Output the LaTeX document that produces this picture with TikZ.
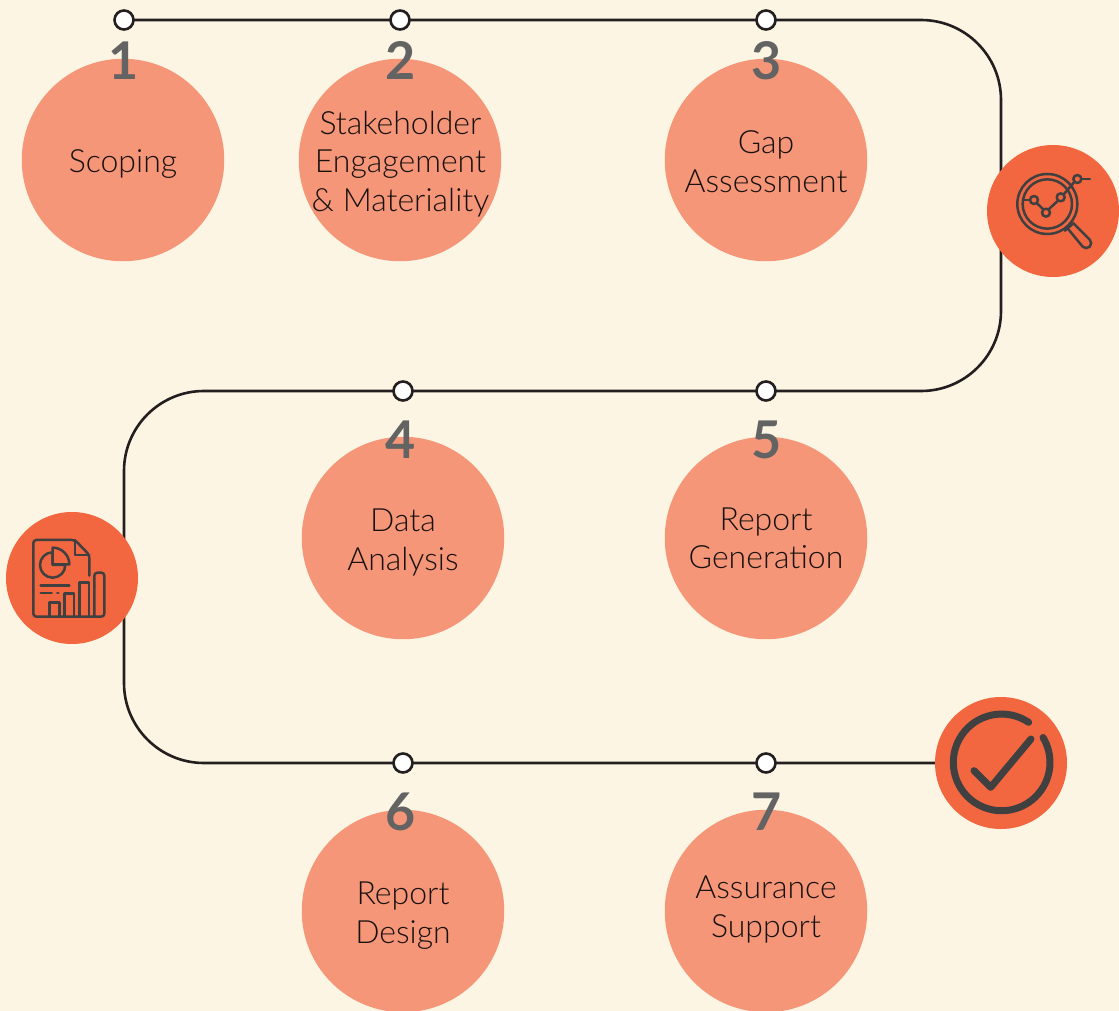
\documentclass[tikz,border=0pt]{standalone}
\usepackage{fontspec}
\setmainfont{Lato}
\newfontfamily\lightfont{Lato Light}
\usetikzlibrary{backgrounds}
\definecolor{bgc}{HTML}{FDF5E3}
\definecolor{stepc}{HTML}{F69679}
\definecolor{iconc}{HTML}{F26640}
\definecolor{darkc}{HTML}{404040}
\definecolor{numc}{HTML}{636363}
\definecolor{linec}{HTML}{231F20}
\definecolor{textc}{HTML}{17110E}
\tikzset{
  stepdisc/.style={circle,fill=stepc,minimum size=202.5pt,inner sep=0pt},
  icondisc/.style={circle,fill=iconc,minimum size=132pt,inner sep=0pt},
  dotnode/.style={circle,draw=linec,line width=2.6pt,fill=white,minimum size=19pt,inner sep=0pt},
  numlabel/.style={font=\fontsize{52}{52}\selectfont\bfseries,text=numc,anchor=base,inner sep=0pt},
  steptext/.style={font=\lightfont\fontsize{32}{38.6}\selectfont,text=textc,align=center,inner sep=0pt},
  iconline/.style={draw=darkc,line width=2.5pt,line cap=round,line join=round},
  pathline/.style={draw=linec,line width=2.6pt}
}
\begin{document}
\begin{tikzpicture}[x=1pt,y=-1pt]
\useasboundingbox (0,0) rectangle (1119,1011);
% discs
\node[stepdisc] (c1) at (123,160) {};
\node[stepdisc] (c2) at (400,160) {};
\node[stepdisc] (c3) at (766,160) {};
\node[stepdisc] (c4) at (403,538) {};
\node[stepdisc] (c5) at (766,538) {};
\node[stepdisc] (c6) at (403,911) {};
\node[stepdisc] (c7) at (766,911) {};
% connector corners
\coordinate (k1) at (1001,20);
\coordinate (k2) at (1001,391);
\coordinate (k3) at (124,391);
\coordinate (k4) at (124,763);
% icon discs
\node[icondisc] (i1) at (1053,211) {};
\node[icondisc] (i2) at (72,578) {};
\node[icondisc] (i3) at (1001,763) {};
% dots
\node[dotnode] (d1) at (124,20) {};
\node[dotnode] (d2) at (400,20) {};
\node[dotnode] (d3) at (766,20) {};
\node[dotnode] (d4) at (403,391) {};
\node[dotnode] (d5) at (766,391) {};
\node[dotnode] (d6) at (403,763) {};
\node[dotnode] (d7) at (766,763) {};
\begin{scope}[on background layer]
\fill[bgc] (0,0) rectangle (1119,1011);
\draw[pathline,rounded corners=80pt] (d1.center) -- (k1) -- (k2) -- (k3) -- (k4) -- (i3.center);
\end{scope}
% numbers
\node[numlabel] (n1) at (123.5,80) {1};
\node[numlabel] (n2) at (401,80) {2};
\node[numlabel] (n3) at (766.5,80) {3};
\node[numlabel] (n4) at (401,458) {4};
\node[numlabel] (n5) at (766.5,458) {5};
\node[numlabel] (n6) at (401,830) {6};
\node[numlabel] (n7) at (766.5,830) {7};
% texts
\node[steptext] (t1) at (123,164) {Scoping};
\node[steptext] (t2) at (400.5,164) {Stakeholder\\Engagement\\\&~Materiality};
\node[steptext] (t3) at (766,161.5) {Gap\\Assessment};
\node[steptext] (t4) at (403,542.5) {Data\\Analysis};
\node[steptext] (t5) at (766,538.5) {Report\\Generation};
\node[steptext] (t6) at (403,915.5) {Report\\Design};
\node[steptext] (t7) at (766,909.5) {Assurance\\Support};
% magnifier icon
\begin{scope}[shift={(980,140)},x=0.3333pt,y=-0.3333pt,iconline]
\draw (202,192) circle[radius=90];
\draw (202,192) circle[radius=74];
\draw (255,272) -- (280,250);
\draw (262,264) -- (308,320) arc[start angle=135,end angle=-45,radius=15] -- (280,250);
\draw (130,180) -- (150,180);
\draw (171,190) -- (190,208);
\draw (207,207) -- (233,183);
\draw (252,162) -- (282,127);
\draw (305,117) -- (330,117);
\draw (162,180) circle[radius=12];
\draw (198,218) circle[radius=12];
\draw (242,172) circle[radius=12];
\draw (292,117) circle[radius=12];
\end{scope}
% report icon
\begin{scope}[shift={(0,505)},x=0.3333pt,y=-0.3333pt,iconline]
\draw[rounded corners=3pt] (268,212) -- (268,150) -- (225,105) -- (100,105) -- (100,335) -- (313,335) -- (313,203) -- (283,203) -- (283,335);
\draw (225,105) -- (225,150) -- (268,150);
\draw (158,142) arc[start angle=-90,end angle=-360,radius=38] -- (158,180) -- cycle;
\draw (158,128) arc[start angle=-90,end angle=0,radius=50] -- (158,178) -- cycle;
\draw (122,242) -- (208,242);
\draw (122,264) -- (155,264);
\draw (172,264) -- (175,264);
\draw (283,243) -- (284,243);
\draw (148,335) -- (148,293) -- (178,293) -- (178,335);
\draw (193,335) -- (193,265) -- (222,265) -- (222,335);
\draw (238,335) -- (238,233) -- (267,233) -- (267,335);
\end{scope}
% check icon
\begin{scope}[shift={(930,690)},x=0.3333pt,y=-0.3333pt,line width=7pt,line cap=round,line join=round]
\draw[darkc] (296,97) arc[start angle=-56,end angle=-391,radius=145];
\draw[darkc] (132,242) -- (182,292) -- (303,147);
\end{scope}
\end{tikzpicture}
\end{document}
